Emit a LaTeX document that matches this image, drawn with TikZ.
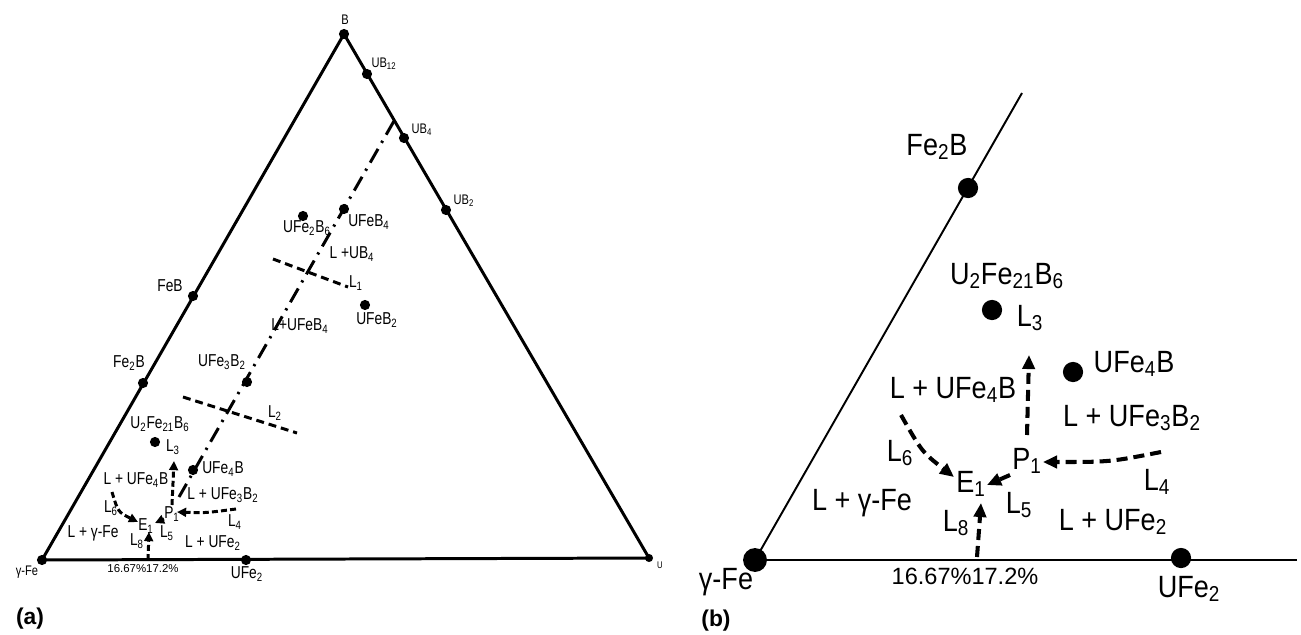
\documentclass[tikz,border=0pt]{standalone}
\usepackage{fontspec}
\setmainfont{Liberation Sans}
\newfontfamily\nf[FakeStretch=0.8]{Liberation Sans}
\newfontfamily\nb[FakeStretch=0.88]{Liberation Sans}
\usetikzlibrary{arrows.meta}
\begin{document}
\begin{tikzpicture}[x=0.02cm,y=-0.02cm,
  tri/.style={line width=1.7pt},
  trib/.style={line width=1.1pt},
  dota/.style={circle,fill,inner sep=0pt,minimum size=5.8pt},
  dotu/.style={circle,fill,inner sep=0pt,minimum size=4.6pt},
  dotb/.style={circle,fill,inner sep=0pt,minimum size=11.5pt},
  dotbig/.style={circle,fill,inner sep=0pt,minimum size=13.6pt},
  la/.style={inner sep=0pt,font=\nf\fontsize{9.8}{10}\selectfont},
  lsa/.style={inner sep=0pt,font=\nf\fontsize{7.9}{8}\selectfont},
  lpa/.style={inner sep=0pt,font=\fontsize{6.5}{7}\selectfont},
  lb/.style={inner sep=0pt,font=\nb\fontsize{17.5}{18}\selectfont},
  lpb/.style={inner sep=0pt,font=\fontsize{13.4}{14}\selectfont},
  tag/.style={inner sep=0pt,font=\bfseries\fontsize{13}{14}\selectfont},
  dashdot/.style={line width=1.7pt,dash pattern=on 9pt off 4pt on 1.3pt off 4pt},
  isoline/.style={line width=1.7pt,dash pattern=on 4.5pt off 2.8pt},
  arra/.style={line width=1.7pt,dash pattern=on 3.4pt off 1.8pt,-{Triangle[length=5.2pt,width=5pt]}},
  arrb/.style={line width=2.3pt,dash pattern=on 6.3pt off 3.4pt,-{Triangle[length=8pt,width=7pt]}}
]
\useasboundingbox (0,0) rectangle (1301,635);
% ---------- panel (a) ----------
\node[dota] (gFe) at (42,560) {};
\node[dota] (B) at (344,34) {};
\node[dotu] (U) at (649,558) {};
\draw[tri] (gFe.center) -- (B.center) -- (U.center) -- cycle;
\node[dota] (UB12) at (367,74) {};
\node[dota] (UB4) at (404,138) {};
\node[dota] (UB2) at (446,210) {};
\node[dota] (FeB) at (193,296) {};
\node[dota] (Fe2B) at (143,383) {};
\node[dota] (UFe2) at (246,560) {};
\node[dota] (UFeB4) at (344,209) {};
\node[dota] (UFe2B6) at (303,216) {};
\node[dota] (UFeB2) at (365,305) {};
\node[dota] (UFe3B2) at (247,382) {};
\node[dota] (U2Fe21B6) at (155,442) {};
\node[dota] (UFe4B) at (193,470) {};
\coordinate (ddtop) at (394,121);
\coordinate (ddbot) at (179,497);
\draw[dashdot] (ddtop) -- (ddbot);
\coordinate (l1a) at (273,259); \coordinate (l1b) at (348,287);
\draw[isoline] (l1a) -- (l1b);
\coordinate (l2a) at (183,397); \coordinate (l2b) at (297,433);
\draw[isoline] (l2a) -- (l2b);
% labels
\node[lsa] at (345,20) {B};
\node[lsa] at (384,64) {UB\textsubscript{12}};
\node[lsa] at (422,130) {UB\textsubscript{4}};
\node[lsa] at (464,201) {UB\textsubscript{2}};
\node[lsa] at (660,565) {\fontsize{5.5}{6}\selectfont U};
\node[lsa] at (27,572) {γ-Fe};
\node[la] at (170,286) {FeB};
\node[la] at (129,363) {Fe\textsubscript{2}B};
\node[la] at (307,228) {UFe\textsubscript{2}B\textsubscript{6}};
\node[la] at (369,222) {UFeB\textsubscript{4}};
\node[la] at (352,254) {L +UB\textsubscript{4}};
\node[la] at (356,283) {L\textsubscript{1}};
\node[la] at (377,320) {UFeB\textsubscript{2}};
\node[la] at (300,326) {L+UFeB\textsubscript{4}};
\node[la] at (222,362) {UFe\textsubscript{3}B\textsubscript{2}};
\node[la] at (275,413) {L\textsubscript{2}};
\node[la] at (160,424) {U\textsubscript{2}Fe\textsubscript{21}B\textsubscript{6}};
\node[la] at (173,447) {L\textsubscript{3}};
\node[la] at (223,469) {UFe\textsubscript{4}B};
\node[la] at (136,480) {L + UFe\textsubscript{4}B};
\node[la] at (223,495) {L + UFe\textsubscript{3}B\textsubscript{2}};
\node[la] (Pa) at (172,514) {P\textsubscript{1}};
\node[la] (Ea) at (146,526) {E\textsubscript{1}};
\node[la] at (111,508) {L\textsubscript{6}};
\node[la] at (93,533) {L + γ-Fe};
\node[la] at (137,541) {L\textsubscript{8}};
\node[la] at (167,533) {L\textsubscript{5}};
\node[la] at (235,522) {L\textsubscript{4}};
\node[la] at (213,543) {L + UFe\textsubscript{2}};
\node[lpa] at (143,569) {16.67\%17.2\%};
\node[la] at (247,574) {UFe\textsubscript{2}};
\node[tag] at (30,619) {(a)};
% arrows (a)
\coordinate (a3s) at (172,505); \coordinate (a3e) at (174,461);
\draw[arra] (a3s) -- (a3e);
\coordinate (a4s) at (236,509); \coordinate (a4e) at (177,512);
\draw[arra] (a4s) .. controls (205,513) .. (a4e);
\coordinate (a6s) at (112,492); \coordinate (a6e) at (138,522);
\draw[arra] (a6s) .. controls (118,512) .. (a6e);
\coordinate (a5s) at (164,519); \coordinate (a5e) at (155,523);
\draw[arra] (a5s) -- (a5e);
\coordinate (a8s) at (148,560); \coordinate (a8e) at (149,532);
\draw[arra] (a8s) -- (a8e);
% ---------- panel (b) ----------
\coordinate (btop) at (1022,93);
\coordinate (bright) at (1297,560);
\node[dotbig] (bgFe) at (755,560) {};
\draw[trib] (bgFe.center) -- (btop);
\draw[trib] (bgFe.center) -- (bright);
\node[dotb] (bFe2B) at (968,188) {};
\node[dotb] (bUFe2) at (1181,558) {};
\node[dotb] (bU2Fe21B6) at (992,310) {};
\node[dotb] (bUFe4B) at (1073,372) {};
\node[lb] at (937,147) {Fe\textsubscript{2}B};
\node[lb] at (1007,276) {U\textsubscript{2}Fe\textsubscript{21}B\textsubscript{6}};
\node[lb] at (1030,318) {L\textsubscript{3}};
\node[lb] at (1134,364) {UFe\textsubscript{4}B};
\node[lb] at (953,390) {L + UFe\textsubscript{4}B};
\node[lb] at (1132,418) {L + UFe\textsubscript{3}B\textsubscript{2}};
\node[lb] (Pb) at (1027,461) {P\textsubscript{1}};
\node[lb] (Eb) at (971,484) {E\textsubscript{1}};
\node[lb] at (900,453) {L\textsubscript{6}};
\node[lb] at (862,503) {L + γ-Fe};
\node[lb] at (1019,505) {L\textsubscript{5}};
\node[lb] at (1157,482) {L\textsubscript{4}};
\node[lb] at (1113,522) {L + UFe\textsubscript{2}};
\node[lb] at (956,523) {L\textsubscript{8}};
\node[lpb] at (965,576) {16.67\%17.2\%};
\node[lb] at (1189,589) {UFe\textsubscript{2}};
\node[lb] at (726,582) {γ-Fe};
\node[tag] at (716,621) {(b)};
% arrows (b)
\coordinate (b3s) at (1027,435); \coordinate (b3e) at (1029,355);
\draw[arrb] (b3s) -- (b3e);
\coordinate (b4s) at (1161,452); \coordinate (b4e) at (1043,462);
\draw[arrb] (b4s) .. controls (1110,462) .. (b4e);
\coordinate (b6s) at (901,415); \coordinate (b6e) at (954,477);
\draw[arrb] (b6s) .. controls (922,452) .. (b6e);
\coordinate (b5s) at (1010,475); \coordinate (b5e) at (987,485);
\draw[arrb] (b5s) -- (b5e);
\coordinate (b8s) at (977,557); \coordinate (b8e) at (981,503);
\draw[arrb] (b8s) -- (b8e);
\end{tikzpicture}
\end{document}
